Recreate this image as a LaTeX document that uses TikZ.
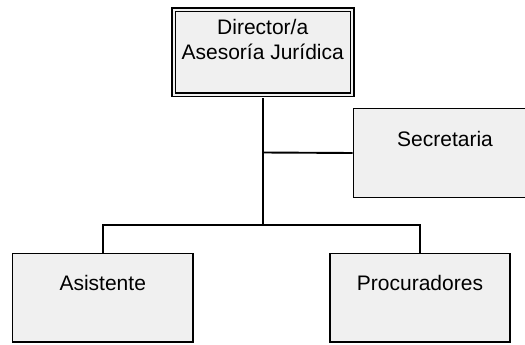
\documentclass[tikz,border=0pt]{standalone}
\usepackage{fontspec}
\setmainfont{Liberation Sans}
\definecolor{boxfill}{RGB}{240,240,240}
\begin{document}
\begin{tikzpicture}[x=1pt,y=1pt,
  orgbox/.style={draw=black, fill=boxfill, line width=1.7pt, rectangle, inner sep=0pt},
  dirbox/.style={draw=black, fill=boxfill, line width=1.5pt, double=boxfill, double distance=2pt, rectangle, inner sep=0pt},
  lbl/.style={font=\fontsize{21}{25}\selectfont, anchor=base, inner sep=0pt},
  conn/.style={line width=1.9pt}]
\useasboundingbox (0,0) rectangle (525,-345);
\clip (0,0) rectangle (525,-345);
\coordinate (j) at (262.75,-225);
\coordinate (k) at (262.75,-152.5);
% boxes
\node[dirbox, minimum width=178.5pt, minimum height=85pt] (dir) at (262.75,-52.5) {};
\node[orgbox, minimum width=183pt, minimum height=89pt] (sec) at (445,-153) {};
\node[orgbox, minimum width=180.5pt, minimum height=88.5pt] (asis) at (102.75,-297.75) {};
\node[orgbox, minimum width=180pt, minimum height=88.5pt] (proc) at (420,-297.75) {};
% connectors
\draw[conn] ([yshift=-2.5pt]dir.south) -- (j);
\draw[conn] (k) -- (sec.west);
\draw[conn] (asis.north) |- (j) -| (proc.north);
% texts
\node[lbl] (dirT1) at ([yshift=-25pt]dir.north) {Director/a};
\node[lbl] (dirT2) at ([yshift=-50pt]dir.north) {Asesoría Jurídica};
\node[lbl] (secT) at ([yshift=-38.5pt]sec.north) {Secretaria};
\node[lbl] (asisT) at ([yshift=-38pt]asis.north) {Asistente};
\node[lbl] (procT) at ([yshift=-38pt]proc.north) {Procuradores};
\end{tikzpicture}
\end{document}
